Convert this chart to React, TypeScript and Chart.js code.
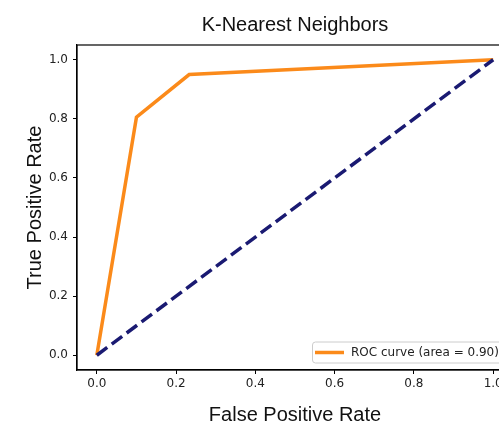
import React, { useEffect, useRef } from "react";
import { Chart, registerables } from "chart.js";

Chart.register(...registerables);

const TITLE = "K-Nearest Neighbors";
const X_LABEL = "False Positive Rate";
const Y_LABEL = "True Positive Rate";
const ROC_LABEL = "ROC curve (area = 0.90)";

const fpr = [0, 0.1, 0.233, 1.0];
const tpr = [0, 0.806, 0.95, 1.0];
const diagX = [0, 1];
const diagY = [0, 1];
const tickValues = [0, 0.2, 0.4, 0.6, 0.8, 1.0];

const ORANGE = "#fb8a1a";
const NAVY = "#1a1a72";
const TICK_FONT = { family: "'DejaVu Sans', sans-serif", size: 12 };
const LABEL_FONT = "20px 'Liberation Sans', Arial, sans-serif";

const decorPlugin = {
  id: "decor",
  afterDraw(chart: any) {
    const { ctx, chartArea } = chart;
    const { left, right, top, bottom } = chartArea;
    const cx = (left + right) / 2;
    ctx.save();
    // frame
    ctx.strokeStyle = "#000";
    ctx.lineWidth = 1.2;
    ctx.strokeRect(left, top, right - left, bottom - top);

    // title & axis labels
    ctx.fillStyle = "#111";
    ctx.font = LABEL_FONT;
    ctx.textAlign = "center";
    ctx.textBaseline = "alphabetic";
    ctx.fillText(TITLE, cx, 30.5);
    ctx.fillText(X_LABEL, cx, 420.5);
    ctx.save();
    ctx.translate(40.5, (top + bottom) / 2);
    ctx.rotate(-Math.PI / 2);
    ctx.fillText(Y_LABEL, 0, 0);
    ctx.restore();

    // legend
    const ds = chart.data.datasets[0];
    const bx = 312.5;
    const by = 342;
    const bw = right - 7 - bx;
    const bh = 21;
    const r = 3;
    ctx.beginPath();
    ctx.moveTo(bx + r, by);
    ctx.lineTo(bx + bw - r, by);
    ctx.arcTo(bx + bw, by, bx + bw, by + r, r);
    ctx.lineTo(bx + bw, by + bh - r);
    ctx.arcTo(bx + bw, by + bh, bx + bw - r, by + bh, r);
    ctx.lineTo(bx + r, by + bh);
    ctx.arcTo(bx, by + bh, bx, by + bh - r, r);
    ctx.lineTo(bx, by + r);
    ctx.arcTo(bx, by, bx + r, by, r);
    ctx.closePath();
    ctx.fillStyle = "rgba(255,255,255,0.8)";
    ctx.fill();
    ctx.strokeStyle = "#cccccc";
    ctx.lineWidth = 1;
    ctx.stroke();

    ctx.beginPath();
    ctx.moveTo(315, by + 10.5);
    ctx.lineTo(344, by + 10.5);
    ctx.strokeStyle = ds.borderColor;
    ctx.lineWidth = 3.5;
    ctx.stroke();

    ctx.fillStyle = "#222";
    ctx.font = `${TICK_FONT.size}px ${TICK_FONT.family}`;
    ctx.textAlign = "left";
    ctx.textBaseline = "middle";
    ctx.fillText(ds.label, 351, by + 11);
    ctx.restore();
  },
};

export default function App() {
  const canvasRef = useRef<HTMLCanvasElement | null>(null);

  useEffect(() => {
    const canvas = canvasRef.current;
    if (!canvas) return;
    const chart = new Chart(canvas, {
      type: "scatter",
      data: {
        datasets: [
          {
            label: ROC_LABEL,
            data: fpr.map((x, i) => ({ x, y: tpr[i] })),
            showLine: true,
            borderColor: ORANGE,
            backgroundColor: ORANGE,
            borderWidth: 3.5,
            pointRadius: 0,
            order: 1,
          },
          {
            label: "chance",
            data: diagX.map((x, i) => ({ x, y: diagY[i] })),
            showLine: true,
            borderColor: NAVY,
            backgroundColor: NAVY,
            borderWidth: 3.5,
            borderDash: [13, 5.6],
            pointRadius: 0,
            order: 0,
          },
        ],
      },
      options: {
        animation: false,
        responsive: false,
        maintainAspectRatio: false,
        layout: { padding: { top: 45, right: 27, left: 0, bottom: 0 } },
        plugins: {
          legend: { display: false },
          title: { display: false },
          tooltip: { enabled: false },
        },
        scales: {
          x: {
            type: "linear",
            min: -0.05,
            max: 1.05,
            afterBuildTicks: (s: any) => {
              s.ticks = tickValues.map((v) => ({ value: v }));
            },
            afterFit: (s: any) => {
              s.height = 58;
            },
            ticks: {
              callback: (v: any) => Number(v).toFixed(1),
              font: TICK_FONT,
              color: "#222",
              padding: 3,
              maxRotation: 0,
              autoSkip: false,
            },
            grid: {
              display: true,
              drawOnChartArea: false,
              drawTicks: true,
              tickLength: 4,
              tickColor: "#000",
              tickWidth: 1,
            },
            border: { display: true, color: "#000", width: 1.2 },
          },
          y: {
            type: "linear",
            min: -0.05,
            max: 1.05,
            afterBuildTicks: (s: any) => {
              s.ticks = tickValues.map((v) => ({ value: v }));
            },
            afterFit: (s: any) => {
              s.width = 77;
            },
            ticks: {
              callback: (v: any) => Number(v).toFixed(1),
              font: TICK_FONT,
              color: "#222",
              padding: 5,
              autoSkip: false,
            },
            grid: {
              display: true,
              drawOnChartArea: false,
              drawTicks: true,
              tickLength: 4,
              tickColor: "#000",
              tickWidth: 1,
            },
            border: { display: true, color: "#000", width: 1.2 },
          },
        },
      },
      plugins: [decorPlugin],
    });
    return () => chart.destroy();
  }, []);

  return (
    <div
      style={{
        position: "fixed",
        left: 0,
        top: 0,
        width: 499,
        height: 428,
        overflow: "hidden",
        background: "#fff",
      }}
    >
      <canvas
        ref={canvasRef}
        width={540}
        height={428}
        style={{ display: "block", width: 540, height: 428 }}
      />
    </div>
  );
}
